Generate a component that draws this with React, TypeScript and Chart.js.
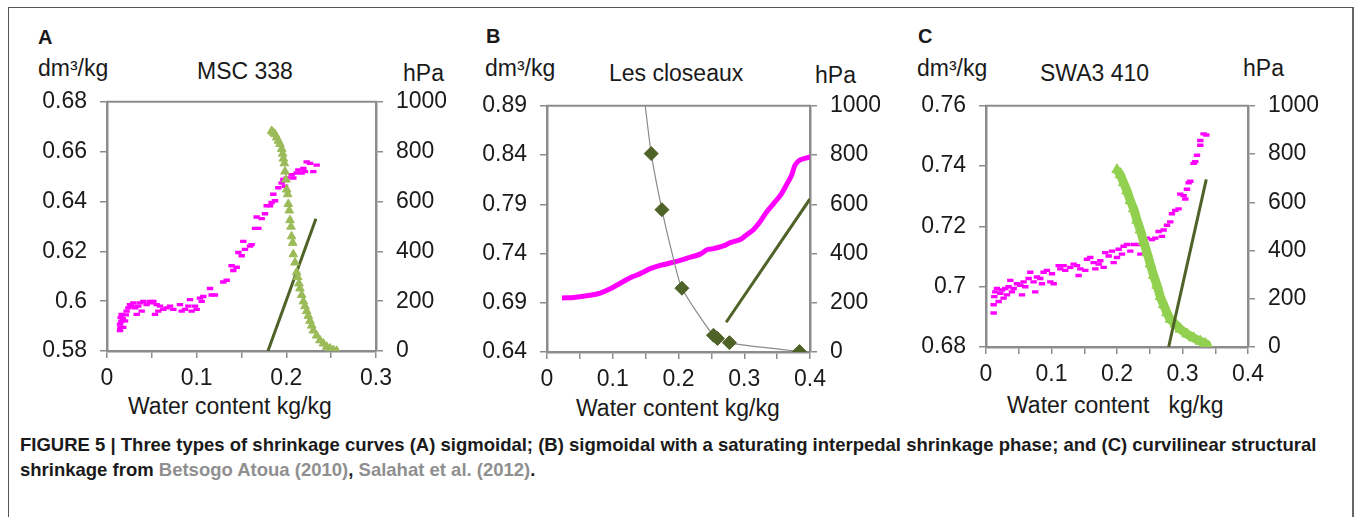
import React, { useEffect, useRef } from 'react';
import { Chart, registerables } from 'chart.js';
Chart.register(...registerables);

const FONT = '"Liberation Sans", Arial, Helvetica, sans-serif';
const TEXT = '#1a1a1a';
const AXIS = '#8c8c8c';
const MAGENTA = '#ff00ff';
const DARK = '#4f6228';

// ---------- shared tick labels ----------
const HPA_TICKS = [0, 200, 400, 600, 800, 1000];
const HPA_LABELS = ['0', '200', '400', '600', '800', '1000'];

// ---------- Panel A: MSC 338 ----------
const A_X_TICKS = [0, 0.05, 0.1, 0.15, 0.2, 0.25, 0.3];
const A_X_LABELS = ['0', '', '0.1', '', '0.2', '', '0.3'];
const A_Y_TICKS = [0.58, 0.6, 0.62, 0.64, 0.66, 0.68];
const A_Y_LABELS = ['0.58', '0.6', '0.62', '0.64', '0.66', '0.68'];
const A_SHRINK: [number, number][] = [
  [0.0145, 0.5882], [0.0145, 0.5908], [0.015, 0.5895], [0.0152, 0.5934], [0.016, 0.5918], [0.0164, 0.5947],
  [0.0182, 0.5895], [0.0175, 0.5930], [0.0201, 0.5921], [0.0219, 0.596], [0.021, 0.5945], [0.0238, 0.5973],
  [0.0257, 0.5986], [0.0275, 0.598], [0.0294, 0.5993], [0.0312, 0.5973], [0.0331, 0.5947], [0.0349, 0.598],
  [0.0368, 0.5993], [0.0387, 0.596], [0.0405, 0.5999], [0.0442, 0.5986], [0.048, 0.5999], [0.0498, 0.5993],
  [0.0517, 0.5999], [0.0535, 0.5947], [0.0554, 0.5986], [0.0572, 0.596], [0.0591, 0.598], [0.0628, 0.5967],
  [0.0665, 0.5973], [0.0703, 0.598], [0.074, 0.5967], [0.0814, 0.5986], [0.0833, 0.596], [0.087, 0.5967],
  [0.0907, 0.598], [0.0926, 0.6006], [0.0944, 0.596], [0.0981, 0.598], [0.1, 0.5967], [0.1037, 0.6012],
  [0.1056, 0.5999], [0.1074, 0.6019], [0.1149, 0.6051], [0.1167, 0.6025], [0.1204, 0.6025], [0.1297, 0.6077],
  [0.1335, 0.6084], [0.139, 0.6142], [0.1409, 0.6123], [0.1446, 0.6136], [0.1465, 0.6195], [0.1502, 0.6182],
  [0.152, 0.624], [0.1539, 0.6208], [0.1595, 0.6221], [0.1613, 0.6227], [0.1651, 0.6292], [0.1669, 0.6338],
  [0.1688, 0.6292], [0.1725, 0.6331], [0.1762, 0.6351], [0.1781, 0.6383], [0.1818, 0.6383], [0.1836, 0.6396],
  [0.1855, 0.6429], [0.1874, 0.6403], [0.1911, 0.6455], [0.1948, 0.6474], [0.1967, 0.6488], [0.1985, 0.6461],
  [0.2004, 0.6494], [0.2059, 0.6507], [0.2078, 0.6494], [0.2115, 0.6514], [0.2134, 0.6527], [0.2171, 0.6514],
  [0.219, 0.6533], [0.2208, 0.652], [0.2227, 0.6559], [0.2264, 0.6553], [0.2301, 0.652], [0.2338, 0.6546],
];
const A_SUCTION: [number, number][] = [
  [0.1836, 883], [0.1855, 876], [0.1874, 870], [0.1892, 857], [0.1911, 844], [0.1929, 831], [0.1948, 811],
  [0.1959, 792], [0.1967, 772], [0.1978, 753], [0.1985, 720], [0.1996, 688], [0.2004, 648], [0.2015, 629],
  [0.2022, 590], [0.2033, 564], [0.2041, 525], [0.2052, 499], [0.2059, 460], [0.2071, 434], [0.2078, 388],
  [0.2097, 355], [0.2115, 316], [0.2126, 297], [0.2141, 271], [0.2152, 251], [0.2171, 225], [0.219, 199],
  [0.2208, 180], [0.2227, 160], [0.2245, 141], [0.2264, 121], [0.2283, 102], [0.2301, 82], [0.2338, 62],
  [0.2375, 43], [0.2413, 30], [0.245, 17], [0.2487, 10], [0.2524, 4], [0.2561, 1],
];
const A_LINE: [number, number][] = [[0.1795, 0.58], [0.233, 0.6331]];

// ---------- Panel B: Les closeaux ----------
const B_X_TICKS = [0, 0.05, 0.1, 0.15, 0.2, 0.25, 0.3, 0.35, 0.4];
const B_X_LABELS = ['0', '', '0.1', '', '0.2', '', '0.3', '', '0.4'];
const B_Y_TICKS = [0.64, 0.69, 0.74, 0.79, 0.84, 0.89];
const B_Y_LABELS = ['0.64', '0.69', '0.74', '0.79', '0.84', '0.89'];
const B_SHRINK: [number, number][] = [
  [0.0228, 0.6949], [0.0405, 0.6953], [0.0658, 0.6976], [0.081, 0.6999], [0.0962, 0.7042], [0.1114, 0.7098],
  [0.1266, 0.7154], [0.1418, 0.7196], [0.157, 0.7246], [0.1722, 0.7279], [0.1924, 0.7312], [0.2128, 0.7352],
  [0.233, 0.7394], [0.2432, 0.7438], [0.2532, 0.745], [0.2684, 0.7477], [0.2786, 0.751], [0.2938, 0.7542],
  [0.304, 0.7592], [0.314, 0.7641], [0.3242, 0.7724], [0.3343, 0.7823], [0.3444, 0.7905], [0.3546, 0.7987],
  [0.3647, 0.8103], [0.3723, 0.8201], [0.3774, 0.83], [0.385, 0.835], [0.3951, 0.8372], [0.4, 0.8382],
];
const B_SUCTION_OBS: [number, number][] = [
  [0.1585, 806], [0.1748, 578], [0.2052, 259], [0.2532, 68], [0.2593, 55], [0.2775, 38], [0.3839, 2],
];
const B_SUCTION_FIT: [number, number][] = [
  [0.1494, 1000], [0.1585, 806], [0.1748, 578], [0.1924, 378], [0.2052, 259], [0.2532, 68], [0.2786, 36], [0.385, 2],
];
const B_LINE: [number, number][] = [[0.2725, 0.6702], [0.4, 0.7954]];

// ---------- Panel C: SWA3 410 ----------
const C_X_TICKS = [0, 0.05, 0.1, 0.15, 0.2, 0.25, 0.3, 0.35, 0.4];
const C_X_LABELS = ['0', '', '0.1', '', '0.2', '', '0.3', '', '0.4'];
const C_Y_TICKS = [0.68, 0.7, 0.72, 0.74, 0.76];
const C_Y_LABELS = ['0.68', '0.7', '0.72', '0.74', '0.76'];
const C_SHRINK: [number, number][] = [
  [0.0117, 0.6913], [0.0117, 0.694], [0.0127, 0.6967], [0.0142, 0.6983], [0.0167, 0.6994], [0.0193, 0.6951],
  [0.0218, 0.6978], [0.0244, 0.6989], [0.0269, 0.6962], [0.0295, 0.6994], [0.032, 0.6973], [0.0345, 0.7],
  [0.0371, 0.7021], [0.0396, 0.6983], [0.0422, 0.6994], [0.0473, 0.701], [0.0524, 0.7005], [0.0549, 0.6973],
  [0.0574, 0.7016], [0.06, 0.7], [0.0651, 0.7027], [0.0676, 0.7048], [0.0727, 0.7016], [0.0752, 0.6983],
  [0.0778, 0.7032], [0.0829, 0.7027], [0.0854, 0.701], [0.088, 0.7048], [0.093, 0.7054], [0.0982, 0.7016],
  [0.1007, 0.7043], [0.1033, 0.701], [0.1109, 0.707], [0.1134, 0.7059], [0.1185, 0.707], [0.121, 0.7054],
  [0.1287, 0.7064], [0.1338, 0.7075], [0.1389, 0.707], [0.1414, 0.7037], [0.144, 0.7059], [0.1516, 0.7054],
  [0.1541, 0.7091], [0.1592, 0.7097], [0.1643, 0.708], [0.1669, 0.7059], [0.172, 0.7075], [0.1745, 0.7086],
  [0.1796, 0.7064], [0.1821, 0.7113], [0.1872, 0.7102], [0.1923, 0.7118], [0.1949, 0.708], [0.2, 0.7097],
  [0.2025, 0.7124], [0.2076, 0.7108], [0.2101, 0.7134], [0.2152, 0.714], [0.2203, 0.7118], [0.2254, 0.714],
  [0.233, 0.714], [0.2356, 0.7108], [0.2407, 0.7156], [0.2457, 0.7161], [0.2534, 0.7156], [0.2585, 0.7161],
  [0.2635, 0.7183], [0.2686, 0.7167], [0.2712, 0.7188], [0.2763, 0.7204], [0.2813, 0.7215], [0.2839, 0.7242],
  [0.289, 0.7253], [0.294, 0.7258], [0.2966, 0.7307], [0.3017, 0.7302], [0.3043, 0.7291], [0.3068, 0.7323],
  [0.3094, 0.7345], [0.3119, 0.735], [0.317, 0.7409], [0.3195, 0.7415], [0.3221, 0.7436], [0.3272, 0.7469],
  [0.3272, 0.7485], [0.3322, 0.7507], [0.3363, 0.7503],
];
const C_SUCTION: [number, number][] = [
  [0.2, 735], [0.205, 714], [0.2101, 681], [0.2153, 647], [0.2203, 607], [0.2254, 573], [0.2305, 526],
  [0.2356, 485], [0.2406, 438], [0.2458, 391], [0.2508, 344], [0.2559, 297], [0.2611, 256], [0.2661, 209],
  [0.2712, 175], [0.2763, 142], [0.2814, 115], [0.289, 95], [0.2966, 74], [0.3069, 54], [0.3169, 38],
  [0.3272, 24], [0.3348, 14], [0.3398, 3],
];
const C_LINE: [number, number][] = [[0.2788, 0.68], [0.3363, 0.7356]];

// ---------- chart helpers ----------
const toXY = (arr: [number, number][]) => arr.map(([x, y]) => ({ x, y }));

const topFrame = {
  id: 'topFrame',
  afterDraw(chart: any) {
    const { ctx, chartArea } = chart;
    ctx.save();
    ctx.strokeStyle = AXIS;
    ctx.lineWidth = 2;
    ctx.beginPath();
    ctx.moveTo(chartArea.left - 1, chartArea.top);
    ctx.lineTo(chartArea.right + 1, chartArea.top);
    ctx.stroke();
    ctx.restore();
  },
};

const PAD_L = 80, PAD_T = 20, PAD_B = 60;
const TICK_SIZE = 23;

function axis(position: string, min: number, max: number, ticks: number[], labels: string[]) {
  const isX = position === 'bottom';
  return {
    type: 'linear',
    position,
    min,
    max,
    afterBuildTicks: (s: any) => { s.ticks = ticks.map((v) => ({ value: v })); },
    afterFit: (s: any) => { if (isX) s.height = 50; else s.width = 70; },
    ticks: {
      autoSkip: false,
      maxRotation: 0,
      padding: isX ? 7 : 13,
      color: TEXT,
      font: { family: FONT, size: TICK_SIZE },
      callback: (_v: any, i: number) => labels[i],
    },
    grid: { display: true, drawOnChartArea: false, drawTicks: true, tickLength: 7, color: AXIS, lineWidth: 1.5 },
    border: { display: true, color: AXIS, width: 2.5 },
  };
}

function Panel(props: { L: number; T: number; R: number; B: number; datasets: any[]; xMax: number; xTicks: number[]; xLabels: string[]; yMin: number; yMax: number; yTicks: number[]; yLabels: string[] }) {
  const ref = useRef<HTMLCanvasElement>(null);
  const W = props.R - props.L + 2 * PAD_L;
  const H = props.B - props.T + PAD_T + PAD_B;
  useEffect(() => {
    const chart = new Chart(ref.current as HTMLCanvasElement, {
      type: 'scatter',
      data: { datasets: props.datasets },
      options: {
        responsive: false,
        animation: false,
        devicePixelRatio: 1,
        layout: { padding: { left: 10, right: 10, top: PAD_T, bottom: 10 } },
        plugins: { legend: { display: false }, tooltip: { enabled: false }, title: { display: false } },
        scales: {
          x: axis('bottom', 0, props.xMax, props.xTicks, props.xLabels),
          y: axis('left', props.yMin, props.yMax, props.yTicks, props.yLabels),
          y2: axis('right', 0, 1000, HPA_TICKS, HPA_LABELS),
        },
      } as any,
      plugins: [topFrame],
    } as any);
    return () => chart.destroy();
  }, []);
  return (
    <canvas
      ref={ref}
      width={W}
      height={H}
      style={{ position: 'absolute', left: props.L - PAD_L, top: props.T - PAD_T, width: W, height: H }}
    />
  );
}

const dashPoints = (data: [number, number][]) => ({
  data: toXY(data),
  yAxisID: 'y',
  pointStyle: 'line',
  pointRadius: 3.2,
  pointBorderWidth: 3.4,
  borderColor: MAGENTA,
  backgroundColor: MAGENTA,
  showLine: false,
});
const straight = (data: [number, number][]) => ({
  data: toXY(data),
  yAxisID: 'y',
  showLine: true,
  borderColor: DARK,
  borderWidth: 3,
  pointRadius: 0,
});

const A_DATASETS = [
  {
    data: toXY(A_SUCTION), yAxisID: 'y2', pointStyle: 'triangle', pointRadius: 5,
    backgroundColor: '#9bbb59', borderColor: '#9bbb59', borderWidth: 1, showLine: false,
  },
  straight(A_LINE),
  dashPoints(A_SHRINK),
];

const B_DATASETS = [
  {
    data: toXY(B_SUCTION_OBS), yAxisID: 'y2', pointStyle: 'rectRot', pointRadius: 7,
    backgroundColor: DARK, borderColor: DARK, borderWidth: 1, showLine: false,
  },
  {
    data: toXY(B_SUCTION_FIT), yAxisID: 'y2', showLine: true, borderColor: '#8a8a8a', borderWidth: 1.2,
    pointRadius: 0, tension: 0.2,
  },
  straight(B_LINE),
  {
    data: toXY(B_SHRINK), yAxisID: 'y', showLine: true, borderColor: MAGENTA, borderWidth: 5,
    pointRadius: 0, tension: 0.3,
  },
];

const C_DATASETS = [
  straight(C_LINE),
  {
    data: toXY(C_SUCTION), yAxisID: 'y2', pointStyle: 'triangle', pointRadius: 6,
    backgroundColor: '#92d050', borderColor: '#92d050', borderWidth: 9, pointBorderWidth: 1,
    showLine: true, tension: 0.2,
  },
  dashPoints(C_SHRINK),
];

function Txt(p: { x: number; cap: number; size: number; bold?: boolean; children: any; color?: string }) {
  return (
    <div
      style={{
        position: 'absolute',
        left: p.x,
        top: p.cap - 0.13 * p.size,
        fontFamily: FONT,
        fontSize: p.size,
        fontWeight: p.bold ? 'bold' : 'normal',
        lineHeight: 1,
        whiteSpace: 'pre',
        color: p.color || TEXT,
      }}
    >
      {p.children}
    </div>
  );
}

const T_SIZE = 23;
const L_SIZE = 20;

export default function App() {
  const grey = { color: '#8f8f8f' };
  return (
    <div style={{ position: 'absolute', left: 0, top: 0, width: 1355, height: 517, background: '#fff', overflow: 'hidden' }}>
      <div
        style={{
          position: 'absolute', left: 8, top: 7, width: 1346, height: 600, boxSizing: 'border-box',
          borderTop: '1.5px solid #555', borderLeft: '1.5px solid #555', borderRight: '2px solid #666',
        }}
      />
      {/* Panel A */}
      <Txt x={38} cap={30} size={L_SIZE} bold>A</Txt>
      <Txt x={38} cap={60} size={T_SIZE}>dm³/kg</Txt>
      <Txt x={197} cap={63} size={T_SIZE}>MSC 338</Txt>
      <Txt x={403} cap={65} size={T_SIZE}>hPa</Txt>
      <Txt x={128} cap={398} size={T_SIZE}>Water content kg/kg</Txt>
      <Panel L={107} T={95} R={376} B={351} datasets={A_DATASETS} xMax={0.3} xTicks={A_X_TICKS} xLabels={A_X_LABELS}
        yMin={0.58} yMax={0.68} yTicks={A_Y_TICKS} yLabels={A_Y_LABELS} />
      {/* Panel B */}
      <Txt x={486} cap={29} size={L_SIZE} bold>B</Txt>
      <Txt x={485} cap={60} size={T_SIZE}>dm³/kg</Txt>
      <Txt x={609} cap={65} size={T_SIZE}>Les closeaux</Txt>
      <Txt x={815} cap={67} size={T_SIZE}>hPa</Txt>
      <Txt x={576} cap={400} size={T_SIZE}>Water content kg/kg</Txt>
      <Panel L={547} T={99} R={810} B={352} datasets={B_DATASETS} xMax={0.4} xTicks={B_X_TICKS} xLabels={B_X_LABELS}
        yMin={0.64} yMax={0.89} yTicks={B_Y_TICKS} yLabels={B_Y_LABELS} />
      {/* Panel C */}
      <Txt x={918} cap={29} size={L_SIZE} bold>C</Txt>
      <Txt x={917} cap={60} size={T_SIZE}>dm³/kg</Txt>
      <Txt x={1040} cap={65} size={T_SIZE}>SWA3 410</Txt>
      <Txt x={1243} cap={60} size={T_SIZE}>hPa</Txt>
      <Txt x={1007} cap={397} size={T_SIZE}>{'Water content   kg/kg'}</Txt>
      <Panel L={986} T={99} R={1248} B={347} datasets={C_DATASETS} xMax={0.4} xTicks={C_X_TICKS} xLabels={C_X_LABELS}
        yMin={0.68} yMax={0.76} yTicks={C_Y_TICKS} yLabels={C_Y_LABELS} />
      {/* Caption */}
      <div
        style={{
          position: 'absolute', left: 20, top: 432, fontFamily: FONT, fontWeight: 'bold', fontSize: 18.5,
          lineHeight: '25px', color: TEXT, whiteSpace: 'nowrap',
        }}
      >
        FIGURE 5 | Three types of shrinkage curves (A) sigmoidal; (B) sigmoidal with a saturating interpedal shrinkage phase; and (C) curvilinear structural
        <br />
        shrinkage from <span style={grey}>Betsogo Atoua (2010)</span>, <span style={grey}>Salahat et al. (2012)</span>.
      </div>
    </div>
  );
}
